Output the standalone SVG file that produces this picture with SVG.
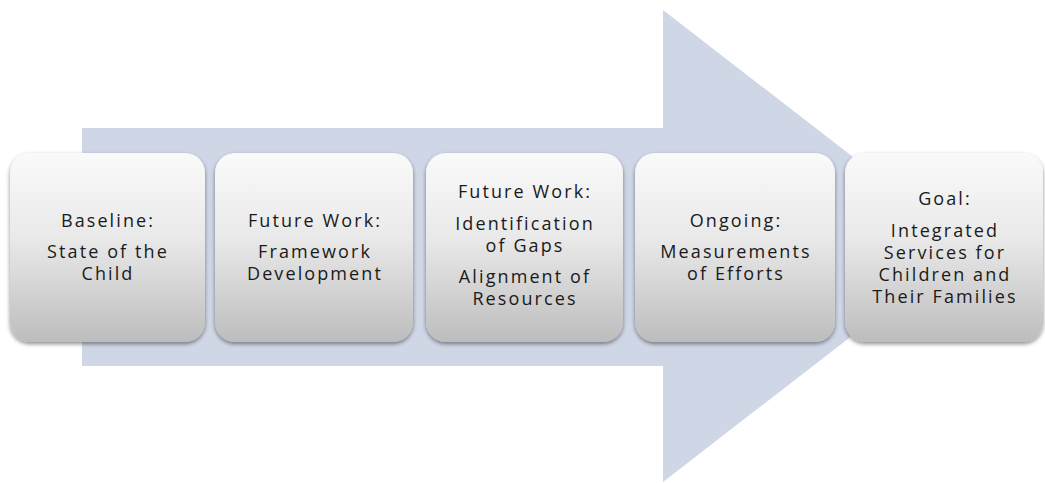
<svg xmlns="http://www.w3.org/2000/svg" width="1045" height="483" viewBox="0 0 1045 483">
<style>
.box{fill:url(#g);filter:url(#sh)}
text{font-family:"Open Sans","Liberation Sans",sans-serif;font-size:18px;letter-spacing:2.1px;fill:#1a1a1a;text-anchor:middle}
</style>
<defs>
<linearGradient id="g" x1="0" y1="0" x2="0" y2="1">
<stop offset="0" stop-color="#fafafa"/>
<stop offset="0.45" stop-color="#e9e9e9"/>
<stop offset="1" stop-color="#bdbdbd"/>
</linearGradient>
<filter id="sh" x="-10%" y="-10%" width="120%" height="125%">
<feGaussianBlur in="SourceAlpha" stdDeviation="2"/>
<feOffset dy="2" result="b"/>
<feComponentTransfer><feFuncA type="linear" slope="0.45"/></feComponentTransfer>
<feMerge><feMergeNode/><feMergeNode in="SourceGraphic"/></feMerge>
</filter>
</defs>
<g id="connectors">
<polygon points="82,128 663,128 663,10 968,246 663,482 663,366 82,366" fill="#cfd7e6"/>
</g>
<g id="n1">
<rect class="box" x="10" y="153" width="195" height="189" rx="20"/>
<text x="108" y="227">Baseline:</text>
<text x="108" y="258">State of the</text>
<text x="108" y="280">Child</text>
</g>
<g id="n2">
<rect class="box" x="215" y="153" width="198" height="189" rx="20"/>
<text x="315" y="227">Future Work:</text>
<text x="315" y="258">Framework</text>
<text x="315" y="280">Development</text>
</g>
<g id="n3">
<rect class="box" x="426" y="153" width="197" height="189" rx="20"/>
<text x="525" y="198">Future Work:</text>
<text x="525" y="230">Identification</text>
<text x="525" y="252">of Gaps</text>
<text x="525" y="283">Alignment of</text>
<text x="525" y="305">Resources</text>
</g>
<g id="n4">
<rect class="box" x="635" y="153" width="200" height="189" rx="20"/>
<text x="736" y="227">Ongoing:</text>
<text x="736" y="258">Measurements</text>
<text x="736" y="280">of Efforts</text>
</g>
<g id="n5">
<rect class="box" x="845" y="153" width="198" height="189" rx="20"/>
<text x="945" y="205">Goal:</text>
<text x="945" y="237">Integrated</text>
<text x="945" y="259">Services for</text>
<text x="945" y="281">Children and</text>
<text x="945" y="303">Their Families</text>
</g>
</svg>
